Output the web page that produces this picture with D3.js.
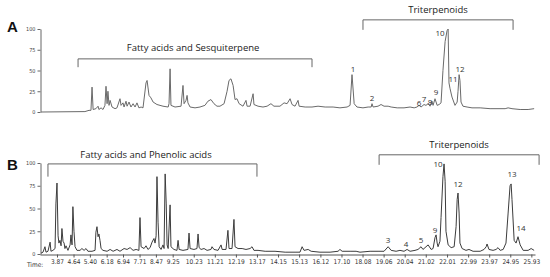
<!DOCTYPE html>
<html>
<head>
<meta charset="utf-8">
<script src="https://cdn.jsdelivr.net/npm/d3@7"></script>
<style>
  body { margin: 0; background: #fff; }
  svg { display: block; }
</style>
</head>
<body>
<div id="chart"></div>
<script>
// retention time ticks (min) and abundance ticks (%)
const timeTicks = [3.87, 4.64, 5.40, 6.18, 6.94, 7.71, 8.47, 9.25, 10.23, 11.21, 12.19, 13.17,
  14.15, 15.13, 16.12, 17.10, 18.08, 19.06, 20.04, 21.02, 22.01, 22.99, 23.97, 24.95, 25.93];
const abundanceTicks = [0, 25, 50, 75, 100];

// chromatogram A : [time, relative abundance]
const traceA = [[3.13,0],[5.17,0.5],[5.36,2],[5.45,2],[5.50,30],[5.55,3],[5.68,4],[5.78,7],[5.82,3],
  [5.92,5],[6.01,3],[6.10,8],[6.15,31],[6.20,10],[6.24,25],[6.29,8],[6.34,14],[6.43,6],[6.57,4],
  [6.66,5],[6.80,16],[6.85,8],[6.94,11],[6.99,6],[7.08,13],[7.13,7],[7.22,12],[7.31,6],[7.41,10],
  [7.50,6],[7.59,11],[7.68,5],[7.78,6],[7.87,5],[8.01,35],[8.06,38],[8.15,20],[8.24,17],[8.34,12],
  [8.52,9],[8.80,7],[9.04,6],[9.08,10],[9.13,52],[9.17,8],[9.36,6],[9.64,7],[9.73,32],[9.78,10],
  [9.87,14],[9.92,20],[9.96,11],[10.06,6],[10.29,5],[10.52,6],[10.75,8],[10.89,13],[11.03,15],
  [11.17,10],[11.31,7],[11.45,7],[11.64,10],[11.78,25],[11.87,38],[11.96,40],[12.06,32],[12.15,15],
  [12.24,16],[12.34,10],[12.52,7],[12.66,14],[12.71,7],[12.85,7],[12.99,22],[13.03,9],[13.22,7],
  [13.45,6],[13.64,7],[13.82,10],[13.96,7],[14.24,7],[14.43,11],[14.57,10],[14.71,16],[14.80,9],
  [14.94,7],[15.08,14],[15.13,7],[15.41,6],[15.73,6],[16.01,7],[16.34,6],[16.71,6],[17.03,5],
  [17.36,6],[17.50,8],[17.59,45],[17.69,10],[17.82,6],[18.10,5],[18.34,6],[18.48,6],[18.52,10],
  [18.57,6],[18.80,7],[18.94,9],[19.08,7],[19.27,7],[19.41,6],[19.69,5],[20.01,5],[20.29,6],
  [20.48,5],[20.61,6],[20.71,8],[20.80,6],[20.94,9],[21.03,8],[21.13,10],[21.22,7],[21.31,13],
  [21.36,8],[21.45,16],[21.55,8],[21.64,9],[21.73,11],[21.82,50],[21.92,85],[22.01,98],[22.06,100],
  [22.10,35],[22.15,28],[22.24,18],[22.38,8],[22.48,12],[22.52,25],[22.57,45],[22.61,38],[22.66,12],
  [22.75,7],[22.94,6],[23.17,5],[23.55,5],[24.01,4],[24.38,4],[24.71,4],[24.85,5],[25.03,4],
  [25.41,3],[25.78,3],[26.06,4]];

// chromatogram B : [time, relative abundance]
const traceB = [[3.13,1],[3.22,2],[3.31,8],[3.36,2],[3.45,3],[3.55,13],[3.59,3],[3.68,4],[3.78,6],
  [3.82,55],[3.87,78],[3.92,20],[3.96,12],[4.01,15],[4.06,9],[4.10,28],[4.15,14],[4.20,12],[4.24,6],
  [4.29,9],[4.38,4],[4.48,10],[4.52,21],[4.57,10],[4.61,52],[4.66,25],[4.71,8],[4.80,4],[4.94,4],
  [5.03,6],[5.13,4],[5.22,6],[5.31,3],[5.50,3],[5.64,4],[5.68,24],[5.73,30],[5.78,19],[5.82,22],
  [5.87,15],[5.92,6],[6.01,4],[6.20,3],[6.34,5],[6.48,3],[6.66,5],[6.80,3],[6.99,6],[7.13,5],
  [7.27,7],[7.41,4],[7.55,5],[7.68,4],[7.73,40],[7.78,8],[7.92,6],[8.01,9],[8.10,5],[8.20,7],
  [8.29,13],[8.38,17],[8.43,12],[8.48,20],[8.52,85],[8.57,35],[8.62,8],[8.71,5],[8.80,10],[8.85,6],
  [8.90,88],[8.95,55],[8.99,10],[9.04,6],[9.13,54],[9.17,8],[9.31,5],[9.45,4],[9.50,15],[9.55,5],
  [9.73,4],[9.96,5],[10.01,23],[10.06,6],[10.24,5],[10.38,6],[10.43,22],[10.48,7],[10.57,5],
  [10.71,6],[10.85,4],[11.03,5],[11.08,8],[11.17,5],[11.36,4],[11.50,10],[11.55,5],[11.73,5],
  [11.82,26],[11.87,6],[12.01,6],[12.10,38],[12.15,8],[12.29,6],[12.48,6],[12.66,5],[12.85,6],
  [12.94,8],[13.03,4],[13.22,4],[13.55,3],[14.01,3],[14.48,2],[14.94,2],[15.17,2],[15.27,8],
  [15.36,4],[15.55,5],[15.69,3],[16.10,2],[16.57,2],[16.94,3],[17.03,5],[17.13,3],[17.50,3],
  [17.78,3],[17.96,2],[18.43,3],[18.80,3],[19.08,3],[19.27,8],[19.41,4],[19.64,3],[19.82,4],
  [20.01,3],[20.15,5],[20.29,3],[20.52,4],[20.66,5],[20.80,8],[20.89,5],[21.13,10],[21.27,5],
  [21.36,6],[21.45,18],[21.50,21],[21.55,12],[21.59,8],[21.68,14],[21.73,40],[21.82,85],[21.87,99],
  [21.92,80],[21.96,25],[22.06,10],[22.20,7],[22.34,8],[22.43,30],[22.48,60],[22.52,67],[22.57,45],
  [22.61,12],[22.71,6],[22.89,4],[23.03,5],[23.22,3],[23.55,3],[23.73,5],[23.83,8],[23.87,11],
  [23.96,5],[24.15,4],[24.29,5],[24.38,7],[24.48,4],[24.62,5],[24.75,12],[24.85,45],[24.94,75],
  [24.99,77],[25.03,60],[25.13,15],[25.22,12],[25.31,19],[25.41,10],[25.55,4],[25.78,4],[25.92,6],
  [26.06,4]];

// peak numbers : [label, time, abundance where the label sits]
const peaksA = [["1",17.64,53],["2",18.52,17],["6",20.71,12],["7",20.94,16],["8",21.22,13],
  ["9",21.50,25],["10",21.68,96],["11",22.29,40],["12",22.61,53]];
const peaksB = [["3",19.27,16],["4",20.10,12],["5",20.80,16],["9",21.45,27],["10",21.59,99],
  ["12",22.52,78],["13",25.03,89],["14",25.45,29]];

// compound class brackets : [name, from, to, level, drop, label time, label level]
const groupsA = [["Fatty acids and Sesquiterpene",4.85,15.73,64,54,10.20,78],
  ["Triterpenoids",18.10,25.08,111,99,21.59,123]];
const groupsB = [["Fatty acids and Phenolic acids",3.45,13.17,99,85,8.01,109],
  ["Triterpenoids",18.85,26.29,109,98,22.57,120]];

const W = 550, H = 277;
const svg = d3.select("#chart").append("svg")
  .attr("width", W).attr("height", H);

const x = d3.scaleLinear().domain([3.08, 26.1]).range([40, 535]);

function panel(letter, trace, peaks, groups, yRange, color, letterY, withTime) {
  const y = d3.scaleLinear().domain([0, 100]).range(yRange);

  // y axis
  const ya = svg.append("g")
    .attr("transform", `translate(${x.range()[0] + 0.5},0)`)
    .call(d3.axisLeft(y).tickValues(abundanceTicks).tickSize(3).tickSizeOuter(0));
  ya.select(".domain").attr("stroke", "#666");
  ya.selectAll(".tick line").attr("stroke", "#666");
  ya.selectAll("text").attr("font-family", "DejaVu Sans Condensed").attr("font-size", 5.5)
    .attr("fill", "#444").attr("dx", 1);

  if (withTime) {
    const xa = svg.append("g")
      .attr("transform", `translate(0,${yRange[0] + 0.5})`)
      .call(d3.axisBottom(x).tickValues(timeTicks).tickFormat(d3.format(".2f")).tickSize(3).tickSizeOuter(0));
    xa.select(".domain").attr("stroke", "#555");
    xa.selectAll(".tick line").attr("stroke", "#555");
    xa.selectAll("text").attr("font-family", "DejaVu Sans Condensed").attr("font-size", 6.5)
      .attr("fill", "#333").attr("dy", "0.55em");
    svg.append("text").attr("x", 27).attr("y", yRange[0] + 12.5)
      .attr("font-family", "DejaVu Sans Condensed").attr("font-size", 6.5).attr("fill", "#333")
      .text("Time:");
  }

  // trace
  svg.append("path").datum(trace)
    .attr("fill", "none").attr("stroke", color).attr("stroke-width", 1)
    .attr("stroke-linejoin", "round")
    .attr("d", d3.line().x(d => x(d[0])).y(d => y(d[1])));

  // peak numbers
  svg.selectAll(null).data(peaks).enter().append("text")
    .attr("x", d => x(d[1])).attr("y", d => y(d[2]))
    .attr("text-anchor", "middle").attr("dominant-baseline", "central")
    .attr("font-family", "Open Sans").attr("font-size", 8).attr("fill", "#333")
    .text(d => d[0]);

  // brackets
  svg.selectAll(null).data(groups).enter().append("path")
    .attr("fill", "none").attr("stroke", "#666").attr("stroke-width", 1)
    .attr("d", d => `M${x(d[1])},${y(d[4])}V${y(d[3])}H${x(d[2])}V${y(d[4])}`);
  svg.selectAll(null).data(groups).enter().append("text")
    .attr("x", d => x(d[5])).attr("y", d => y(d[6]))
    .attr("text-anchor", "middle").attr("dominant-baseline", "central")
    .attr("font-family", "Open Sans").attr("font-size", 9.5).attr("fill", "#222")
    .text(d => d[0]);

  svg.append("text").attr("x", 7).attr("y", letterY)
    .attr("font-family", "Liberation Sans").attr("font-weight", "bold").attr("font-size", 15)
    .attr("fill", "#111").text(letter);
}

panel("A", traceA, peaksA, groupsA, [112, 29], "#6a6a6a", 32, false);
panel("B", traceB, peaksB, groupsB, [254, 163], "#3c3c3c", 170, true);
</script>
</body>
</html>
